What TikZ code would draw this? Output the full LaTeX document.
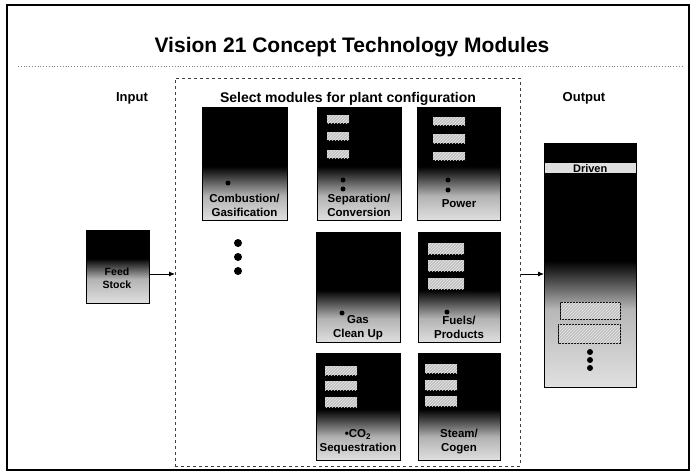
\documentclass[tikz,border=0pt]{standalone}
\usepackage{fontspec}
\setmainfont{Liberation Sans}
\usetikzlibrary{arrows.meta,patterns}
\pgfdeclareverticalshading{modshade}{100bp}{color(0bp)=(black!12); color(25bp)=(black!12); color(36bp)=(black!30); color(49bp)=(black); color(100bp)=(black)}
\pgfdeclareverticalshading{feedshade}{100bp}{color(0bp)=(black!12); color(25bp)=(black!12); color(42bp)=(black!30); color(56bp)=(black); color(100bp)=(black)}
\pgfdeclareverticalshading{outshade}{100bp}{color(0bp)=(black!12); color(25bp)=(black!12); color(41bp)=(black!28); color(51bp)=(black); color(100bp)=(black)}
\begin{document}
\begin{tikzpicture}[x=1pt,y=-1pt,
  modbox/.style={draw=black, line width=1.3pt, shade, shading=modshade, anchor=north west,
     minimum width=84pt, minimum height=111pt, inner sep=0pt},
  lab/.style={font=\bfseries\fontsize{11.5}{14}\selectfont, align=center, inner sep=0pt, text=black},
  hatch/.style={fill=gray!50, postaction={pattern=north east lines, pattern color=gray!15}, anchor=north west, inner sep=0pt},
  blob/.style={circle, fill=black, inner sep=0pt, minimum size=5pt},
  bigdot/.style={circle, fill=black, inner sep=0pt, minimum size=8pt},
  head/.style={font=\bfseries\fontsize{13}{15}\selectfont, inner sep=0pt},
  arr/.style={-{Latex[length=6pt,width=5pt]}, line width=0.9pt}
]
\useasboundingbox (0,0) rectangle (693,473);
\fill[white] (0,0) rectangle (693,473);
% outer frame
\draw[line width=1.4pt] (7,5) rectangle (689,470);
% title
\node[font=\bfseries\fontsize{21}{24}\selectfont, inner sep=0pt] (title) at (352,47) {Vision 21 Concept Technology Modules};
\draw[gray, dotted, line width=0.8pt] (18,66) -- (682,66);
% headings
\node[head] (inp) at (132,98) {Input};
\node[head, font=\bfseries\fontsize{14}{16}\selectfont] (selt) at (348,99) {Select modules for plant configuration};
\node[head] (outp) at (584,98) {Output};
% selection frame
\node[draw=gray!50!black, dashed, line width=0.7pt, anchor=north west, minimum width=345pt, minimum height=388pt, inner sep=0pt] (sel) at (175,78) {};
% modules row 1
\node[modbox, minimum width=85pt, minimum height=113pt] (comb) at (202,107) {};
\node[modbox, minimum height=113pt] (sep) at (317,107) {};
\node[modbox, minimum width=83pt, minimum height=113pt] (pow) at (417,107) {};
% row 2
\node[modbox, minimum height=110pt] (gas) at (316,232) {};
\node[modbox, minimum width=82pt, minimum height=110pt] (fuel) at (418,232) {};
% row 3
\node[modbox, minimum height=107pt] (co2) at (316,353) {};
\node[modbox, minimum width=82pt, minimum height=107pt] (steam) at (418,353) {};
% hatched small rectangles
\node[hatch, minimum width=22pt, minimum height=8pt] (s1) at (327,115) {};
\node[hatch, minimum width=22pt, minimum height=8pt] (s2) at (327,132) {};
\node[hatch, minimum width=22pt, minimum height=8pt] (s3) at (327,150) {};
\node[hatch, minimum width=32pt, minimum height=8pt] (p1) at (433,117) {};
\node[hatch, minimum width=32pt, minimum height=9pt] (p2) at (433,134) {};
\node[hatch, minimum width=32pt, minimum height=8pt] (p3) at (433,152) {};
\node[hatch, minimum width=36pt, minimum height=11pt] (f1) at (428,243) {};
\node[hatch, minimum width=36pt, minimum height=11pt] (f2) at (428,260) {};
\node[hatch, minimum width=36pt, minimum height=11pt] (f3) at (428,278) {};
\node[hatch, minimum width=32pt, minimum height=9pt] (c1) at (325,366) {};
\node[hatch, minimum width=32pt, minimum height=9pt] (c2) at (325,381) {};
\node[hatch, minimum width=32pt, minimum height=10pt] (c3) at (325,397) {};
\node[hatch, minimum width=32pt, minimum height=9pt] (t1) at (425,364) {};
\node[hatch, minimum width=32pt, minimum height=10pt] (t2) at (425,380) {};
\node[hatch, minimum width=32pt, minimum height=10pt] (t3) at (425,396) {};
% blobs
\node[blob] (cb) at (228,183) {};
\node[blob] (sb1) at (343,180) {};
\node[blob] (sb2) at (343,189) {};
\node[blob] (pb1) at (448,180) {};
\node[blob] (pb2) at (448,190) {};
\node[blob] (gb) at (342,313) {};
\node[blob] (fb) at (447,312) {};
% labels
\node[lab] (combL) at (244.5,205) {Combustion/\\Gasification};
\node[lab] (sepL) at (359,205) {Separation/\\Conversion};
\node[lab] (powL) at (459,204) {Power};
\node[lab] (gasL) at (358,327.5) {Gas\\Clean Up};
\node[lab] (fuelL) at (459,327.5) {Fuels/\\Products};
\node[lab] (co2L) at (358,442) {\textbullet CO$_\mathbf{2}$\\Sequestration};
\node[lab] (steamL) at (459,442) {Steam/\\Cogen};
% dots
\node[bigdot] (d1) at (238,243) {};
\node[bigdot] (d2) at (238,257) {};
\node[bigdot] (d3) at (238,271) {};
% feed stock
\node[draw=black, line width=1.3pt, shade, shading=feedshade, anchor=north west, minimum width=63pt, minimum height=73pt, inner sep=0pt] (feed) at (86,230) {};
\node[lab, font=\bfseries\fontsize{10.5}{13}\selectfont] (feedL) at (117,278) {Feed\\Stock};
% output
\node[draw=black, line width=1.3pt, shade, shading=outshade, anchor=north west, minimum width=92pt, minimum height=244pt, inner sep=0pt] (out) at (544,143) {};
\node[fill=gray!25, anchor=north west, minimum width=91pt, minimum height=10pt, inner sep=0pt, font=\bfseries\fontsize{11}{12}\selectfont] (drv) at (544.5,163) {Driven};
\node[draw=black, line width=1.2pt, hatch, minimum width=60pt, minimum height=17pt] (o1) at (560,302) {};
\node[draw=black, line width=1.2pt, hatch, minimum width=62pt, minimum height=19pt] (o2) at (558,324) {};
\node[blob, minimum size=6pt] (od1) at (590,352) {};
\node[blob, minimum size=6pt] (od2) at (590,360) {};
\node[blob, minimum size=6pt] (od3) at (590,368) {};
% connectors
\coordinate (ay) at (0,274);
\draw[arr] (feed.east |- ay) -- (sel.west |- ay);
\draw[arr] (sel.east |- ay) -- (out.west |- ay);
\end{tikzpicture}
\end{document}
